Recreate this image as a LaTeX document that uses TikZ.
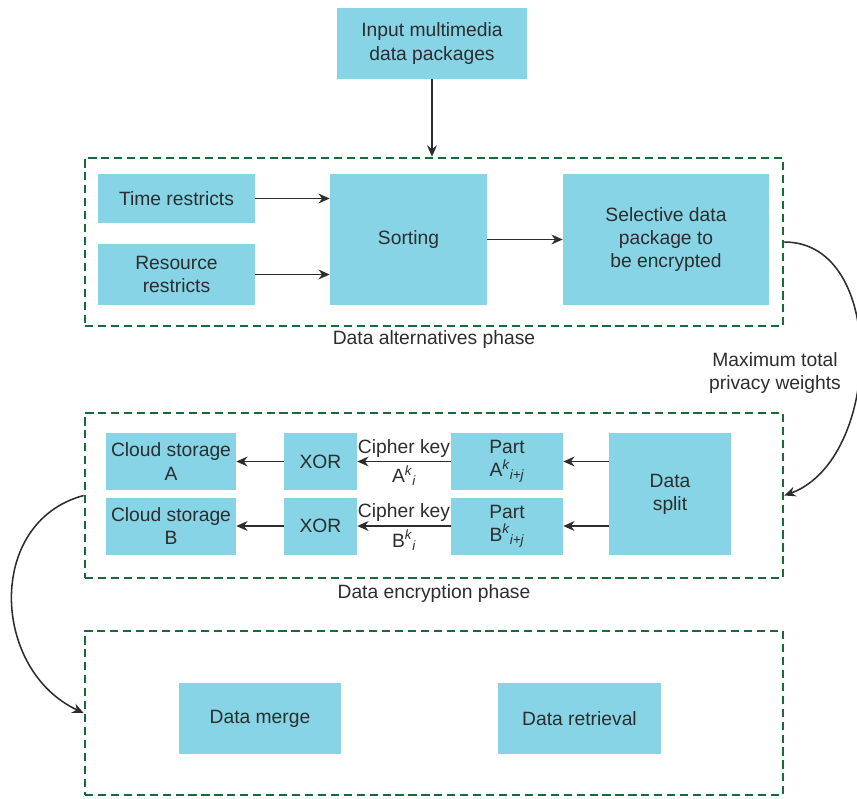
\documentclass[tikz,border=0pt]{standalone}
\usepackage{fontspec}
\setmainfont{Liberation Sans}
\usetikzlibrary{arrows.meta}

\definecolor{boxblue}{RGB}{134,212,229}
\definecolor{phasegreen}{RGB}{22,108,56}
\definecolor{inkgray}{RGB}{45,45,45}

\tikzstyle{block}=[fill=boxblue, text=inkgray, align=center, inner sep=0pt, font=\fontsize{13.7}{16.4}\selectfont]
\tikzstyle{phase}=[draw=phasegreen, line width=1.9pt, dash pattern=on 5.8pt off 3.4pt, inner sep=0pt]
\tikzstyle{caption}=[text=inkgray, align=center, font=\fontsize{13.7}{16.4}\selectfont]
\tikzstyle{flow}=[-{Stealth[length=8pt,width=7pt]}, line width=1.1pt, draw=inkgray]
\tikzset{wh/.style 2 args={minimum width=#1*0.025cm, minimum height=#2*0.025cm}}
\newcommand{\ikey}[2]{#1\textsuperscript{\itshape k}\textsubscript{\itshape #2}}

\begin{document}
\begin{tikzpicture}[x=0.025cm, y=-0.025cm]
  \useasboundingbox (0,0) rectangle (857,798);

  % phases
  \node[phase, wh={698}{168}] (alt) at (434,242) {};
  \node[phase, wh={698}{165}] (enc) at (434,495.5) {};
  \node[phase, wh={698}{164}] (dec) at (434,713) {};
  \node[caption] (altlab) at (434,340) {Data alternatives phase};
  \node[caption] (enclab) at (434,594) {Data encryption phase};

  % alternatives
  \node[block, wh={190}{71}] (input) at (432,43.5) {Input multimedia\\data packages};
  \node[block, wh={157}{49}] (time) at (176.5,198.5) {Time restricts};
  \node[block, wh={157}{61}] (res) at (176.5,274.5) {Resource\\restricts};
  \node[block, wh={157}{131}] (sort) at (408.5,239.5) {Sorting};
  \node[block, wh={206}{131}] (select) at (666,239.5) {Selective data\\package to\\be encrypted};

  \draw[flow] (input) -- (input |- alt.north);
  \draw[flow] (time) -- (time -| sort.west);
  \draw[flow] (res) -- (res -| sort.west);
  \draw[flow] (sort) -- (select);

  % encryption
  \node[block, wh={122}{122}] (split) at (670,494) {Data\\split};
  \foreach \p/\y in {A/461.5, B/526} {
    \node[block, wh={112}{57}] (part\p) at (507,\y) {Part\\\ikey{\p}{i+j}};
    \node[block, wh={73}{57}] (xor\p) at (320.5,\y) {XOR};
    \node[block, wh={130}{57}] (cloud\p) at (171,\y) {Cloud storage\\\p};
    \draw[flow] (split.west |- part\p) -- (part\p);
    \draw[flow] (part\p) -- node[caption, above, yshift=-1pt] (key\p) {Cipher key}
      node[caption, below, yshift=1pt] (sub\p) {\ikey{\p}{i}} (xor\p);
    \draw[flow] (xor\p) -- (cloud\p);
  }
  \node[caption] (weights) at (775,373) {Maximum total\\privacy weights};

  % merge
  \node[block, wh={162}{71}] (merge) at (260,718.5) {Data merge};
  \node[block, wh={163}{71}] (retr) at (579.5,718.5) {Data retrieval};

  \draw[flow] (alt.east) to[out=0, in=20, looseness=1.05] (enc.east);
  \draw[flow] (enc.west) to[out=195, in=155, looseness=1.2] (dec.west);
\end{tikzpicture}
\end{document}
